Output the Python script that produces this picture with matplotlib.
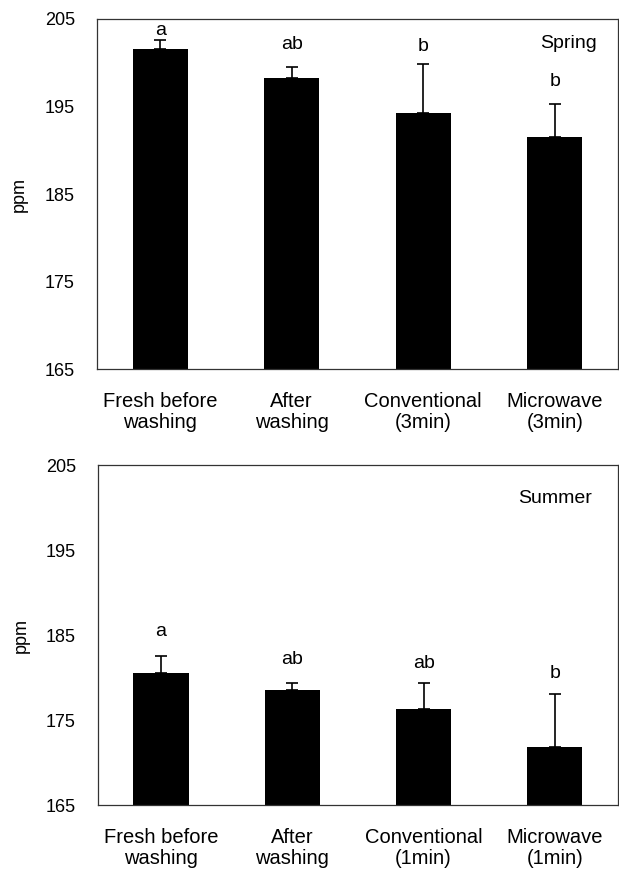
import matplotlib
matplotlib.use("Agg")
import matplotlib.pyplot as plt

plt.rcParams['font.family'] = ['Liberation Sans', 'DejaVu Sans']

# ---- data ----
spring_labels = ["Fresh before\nwashing", "After\nwashing", "Conventional\n(3min)", "Microwave\n(3min)"]
summer_labels = ["Fresh before\nwashing", "After\nwashing", "Conventional\n(1min)", "Microwave\n(1min)"]
spring_means = [201.5, 198.2, 194.2, 191.5]
spring_err = [1.1, 1.3, 5.6, 3.8]
spring_letters = ["a", "ab", "b", "b"]
spring_letter_y = [203.7, 202.1, 201.8, 197.8]
summer_means = [180.6, 178.5, 176.3, 171.9]
summer_err = [2.0, 0.85, 3.05, 6.2]
summer_letters = ["a", "ab", "ab", "b"]
summer_letter_y = [185.4, 182.1, 181.7, 180.5]
yticks = [165, 175, 185, 195, 205]

fig = plt.figure(figsize=(6.19, 8.71), dpi=100)
ax1 = fig.add_axes([0.1567, 0.576, 0.8417, 0.4024])
ax2 = fig.add_axes([0.1583, 0.0754, 0.8400, 0.3907])


def draw(ax, labels, means, errs, letters, letter_y, season, season_xy):
    x = list(range(len(means)))
    ax.bar(x, [m - 165 for m in means], bottom=165, width=0.42, color='black',
           edgecolor='black', linewidth=0)
    ax.errorbar(x, means, yerr=[[0] * len(errs), errs], fmt='none', ecolor='black',
                elinewidth=1.2, capsize=4.3, capthick=1.2)
    for xi, lt, ly in zip(x, letters, letter_y):
        ax.text(xi, ly, lt, ha='center', va='center', fontsize=14)
    ax.text(season_xy[0], season_xy[1], season, ha='center', va='center', fontsize=14)
    ax.set_xlim(-0.48, 3.48)
    ax.set_ylim(165, 205)
    ax.set_yticks(yticks)
    ax.set_yticklabels([str(t) for t in yticks], fontsize=13)
    ax.set_xticks(x)
    ax.set_xticklabels(labels, fontsize=14.5, linespacing=1.15)
    ax.tick_params(axis='y', length=0, pad=16)
    ax.tick_params(axis='x', length=0, pad=16)
    ax.set_ylabel('ppm', fontsize=13)
    ax.yaxis.set_label_coords(-0.132, 0.5)
    for s in ax.spines.values():
        s.set_linewidth(0.9)
        s.set_color('#333333')


draw(ax1, spring_labels, spring_means, spring_err, spring_letters, spring_letter_y,
     "Spring", (3.1, 202.15))
draw(ax2, summer_labels, summer_means, summer_err, summer_letters, summer_letter_y,
     "Summer", (3.0, 201.1))

fig.savefig("out.png", dpi=100)
